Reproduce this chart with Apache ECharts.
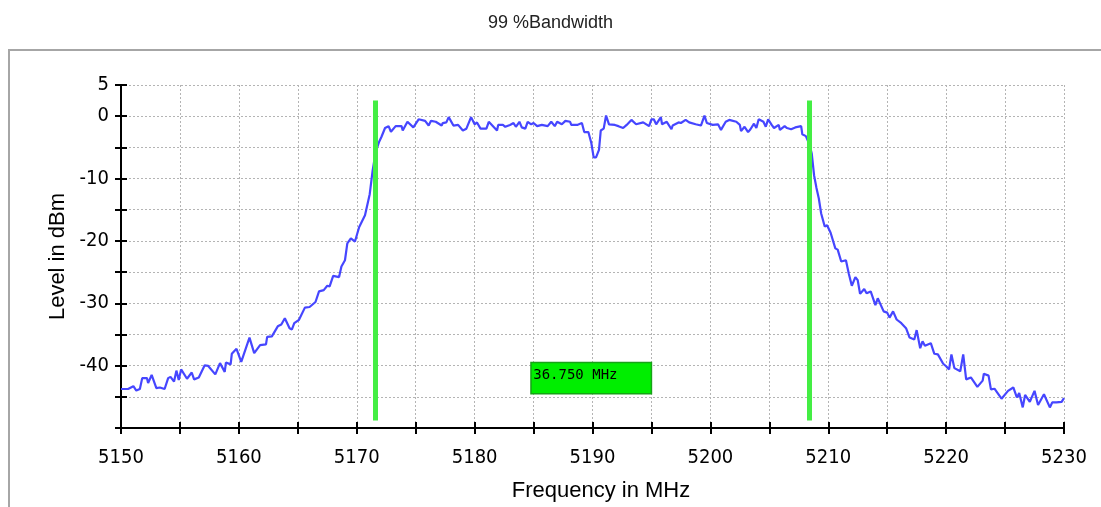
<!DOCTYPE html>
<html>
<head>
<meta charset="utf-8">
<script src="https://cdn.jsdelivr.net/npm/echarts@6/dist/echarts.min.js"></script>
<style>
html,body{margin:0;padding:0;background:#fff;}
#chart{width:1101px;height:507px;}
</style>
</head>
<body>
<div id="chart"></div>
<script>
const titleText = '99 %Bandwidth';
const xName = 'Frequency in MHz';
const yName = 'Level in dBm';
const bandwidthLabel = '36.750 MHz';

const freqMHz = [
5150.0,5150.6,5151.05,5151.3,5151.6,5151.8,5152.2,5152.3,5152.6,5153.0,5153.3,5153.7,5154.0,5154.2,5154.5,5154.7,5154.9,5155.1,5155.6,5156.0,
5156.2,5156.6,5157.1,5157.4,5158.0,5158.4,5158.8,5158.9,5159.3,5159.4,5159.8,5160.2,5160.9,5161.3,5161.8,5162.3,5162.4,5162.8,5163.3,5163.6,
5163.9,5164.3,5164.5,5164.7,5165.1,5165.6,5166.0,5166.5,5166.8,5167.2,5167.5,5167.7,5168.0,5168.5,5168.7,5169.0,5169.2,5169.5,5169.85,5170.2,
5170.7,5171.1,5171.35,5171.6,5171.9,5172.1,5172.4,5172.7,5172.9,5173.3,5173.8,5173.9,5174.3,5174.8,5175.25,5175.8,5176.1,5176.3,5176.7,5177.2,
5177.3,5177.6,5177.8,5178.2,5178.6,5179.0,5179.3,5179.7,5180.0,5180.2,5180.5,5181.0,5181.2,5181.9,5182.0,5182.4,5182.6,5183.0,5183.3,5183.5,
5183.8,5184.0,5184.3,5184.5,5184.8,5185.0,5185.3,5185.7,5186.2,5186.5,5186.8,5187.0,5187.4,5187.7,5188.1,5188.2,5188.7,5188.8,5189.1,5189.3,
5189.65,5189.9,5190.1,5190.3,5190.55,5190.7,5190.95,5191.15,5191.4,5191.9,5192.2,5192.6,5192.9,5193.3,5193.7,5194.3,5194.8,5195.0,5195.2,5195.4,
5195.8,5195.9,5196.3,5196.7,5196.8,5197.3,5197.5,5197.9,5198.2,5198.75,5199.2,5199.5,5199.7,5200.2,5200.65,5200.9,5201.3,5201.6,5202.2,5202.5,
5202.6,5202.9,5203.2,5203.4,5203.7,5203.9,5204.1,5204.5,5204.7,5204.9,5205.2,5205.4,5205.8,5205.9,5206.3,5206.5,5206.85,5207.2,5207.7,5207.8,
5208.1,5208.4,5208.6,5208.8,5209.0,5209.2,5209.4,5209.7,5209.9,5210.2,5210.6,5210.8,5211.1,5211.5,5211.75,5212.0,5212.3,5212.5,5212.7,5213.05,
5213.25,5213.6,5214.0,5214.2,5214.7,5215.0,5215.2,5215.5,5215.8,5216.2,5216.6,5216.9,5217.3,5217.5,5217.8,5218.0,5218.2,5218.7,5219.0,5219.3,
5219.75,5220.0,5220.25,5220.45,5220.7,5221.2,5221.45,5221.7,5222.1,5222.65,5223.1,5223.2,5223.6,5223.8,5224.1,5224.7,5225.25,5225.7,5226.0,5226.2,
5226.5,5226.7,5227.1,5227.5,5227.8,5228.3,5228.8,5229.0,5229.35,5229.5,5229.8,5230.0
];
const levelDBm = [
-43.75,-43.75,-43.3,-44.0,-43.75,-42.0,-42.0,-42.8,-41.5,-43.6,-43.5,-43.75,-42.0,-41.8,-42.55,-40.8,-42.3,-40.6,-42.1,-41.1,
-42.2,-41.9,-39.95,-40.05,-41.4,-39.6,-41.0,-39.5,-39.8,-38.1,-37.3,-39.4,-35.5,-38.0,-36.7,-36.6,-35.4,-35.3,-33.7,-33.4,
-32.4,-34.0,-34.2,-33.2,-32.65,-30.7,-30.6,-29.8,-28.1,-27.9,-27.2,-27.3,-25.6,-25.8,-24.1,-23.1,-20.4,-19.6,-20.1,-17.8,
-15.9,-12.5,-8.7,-5.8,-4.1,-3.3,-1.9,-1.6,-2.5,-1.6,-1.6,-2.3,-0.9,-1.8,-0.5,-0.75,-1.5,-0.75,-0.9,-1.5,
-1.1,-1.0,-0.15,-1.5,-1.4,-2.3,-2.0,-0.15,-1.3,-1.0,-2.0,-2.0,-0.9,-2.3,-1.4,-1.4,-1.7,-1.4,-1.1,-1.7,
-0.9,-1.8,-2.0,-0.9,-1.3,-1.1,-1.6,-1.4,-1.6,-0.9,-1.6,-0.9,-1.3,-0.75,-0.9,-1.4,-1.4,-1.7,-1.1,-2.55,
-2.55,-4.3,-6.6,-6.6,-5.4,-2.3,-2.0,0.1,-1.3,-1.4,-1.6,-1.9,-1.4,-0.6,-1.3,-1.0,-1.6,-0.5,-0.5,-1.3,
-0.15,-1.3,-0.9,-2.1,-1.5,-1.0,-1.1,-0.6,-1.0,-1.3,-1.5,0.1,-1.1,-1.4,-1.3,-2.2,-0.9,-0.6,-0.9,-1.4,
-2.4,-1.7,-2.55,-2.1,-1.2,-1.9,-0.5,-0.9,-1.7,-0.5,-1.4,-1.9,-1.4,-2.2,-1.6,-1.9,-2.1,-1.8,-1.6,-2.9,
-3.2,-4.5,-6.0,-9.5,-11.5,-13.2,-15.6,-17.7,-17.5,-18.7,-21.2,-21.4,-23.3,-23.1,-25.3,-27.2,-25.8,-26.3,-28.5,-27.7,
-28.4,-28.1,-30.3,-29.2,-31.3,-31.5,-32.3,-31.3,-32.6,-33.2,-34.0,-35.5,-35.8,-34.3,-37.2,-36.1,-36.8,-36.4,-38.1,-38.2,
-39.7,-40.1,-40.6,-38.2,-40.4,-40.9,-38.2,-42.2,-41.9,-43.4,-42.4,-41.3,-41.6,-43.8,-43.7,-45.3,-44.05,-43.5,-45.1,-44.4,
-46.7,-44.7,-45.8,-44.05,-46.3,-44.6,-46.7,-45.9,-45.9,-46.2,-45.8,-45.2
];

// bandwidth markers (MHz) and their vertical extent (dBm)
const markerFreqs = [5171.6, 5208.35];
const markerTop = 2.5;
const markerBottom = -48.8;
// readout box corners [freq, level]
const boxCorners = [[5184.78, -39.5], [5195.0, -44.5]];

const xTickLabels = [5150,5160,5170,5180,5190,5200,5210,5220,5230];
const yTickLabels = [5,0,-10,-20,-30,-40];

const seriesData = freqMHz.map((f, i) => [f, levelDBm[i]]);

const narrow = "'Liberation Sans Narrow','DejaVu Sans Condensed',sans-serif";
const regular = "'Liberation Sans',Arial,sans-serif";
const gridLine = {show: true, lineStyle: {color: '#b4b4b4', width: 1, type: [2, 2]}};

const chart = echarts.init(document.getElementById('chart'), null, {renderer: 'canvas'});
chart.setOption({
  animation: false,
  backgroundColor: '#fff',
  graphic: [{
    type: 'rect', silent: true, z: -10,
    shape: {x: 9, y: 50, width: 1200, height: 600},
    style: {fill: '#fff', stroke: '#a6a6a6', lineWidth: 2}
  }],
  title: {
    text: titleText, left: 'center', top: 9,
    textStyle: {fontFamily: regular, fontSize: 18, fontWeight: 'normal', color: '#222'}
  },
  grid: {left: 121, right: 37, top: 85, bottom: 74, containLabel: false},
  xAxis: [{
    type: 'value', min: 5150, max: 5230, interval: 5,
    name: xName, nameLocation: 'middle', nameGap: 52,
    nameTextStyle: {fontFamily: regular, fontSize: 22, color: '#000', padding: [0, 0, 0, 17], verticalAlign: 'top'},
    axisLine: {show: true, onZero: false, lineStyle: {color: '#000', width: 2}},
    axisTick: {show: true, length: 6, lineStyle: {color: '#000', width: 2}},
    axisLabel: {
      margin: 20, fontFamily: narrow, fontSize: 20, color: '#000',
      formatter: v => xTickLabels.includes(Math.round(v)) ? String(Math.round(v)) : ''
    },
    splitLine: gridLine
  }, {
    type: 'value', min: 5150, max: 5230, interval: 5, position: 'bottom',
    axisLine: {show: false, onZero: false}, axisLabel: {show: false}, splitLine: {show: false},
    axisTick: {show: true, inside: true, length: 6, lineStyle: {color: '#000', width: 2}}
  }],
  yAxis: [{
    type: 'value', min: -50, max: 5, interval: 5,
    name: yName, nameLocation: 'middle', nameGap: 50, nameRotate: 90,
    nameTextStyle: {fontFamily: regular, fontSize: 22, color: '#000'},
    axisLine: {show: true, onZero: false, lineStyle: {color: '#000', width: 2}},
    axisTick: {show: true, length: 6, lineStyle: {color: '#000', width: 2}},
    axisLabel: {
      margin: 12, fontFamily: narrow, fontSize: 20, color: '#000',
      formatter: v => yTickLabels.includes(Math.round(v)) ? String(Math.round(v)) : ''
    },
    splitLine: gridLine
  }, {
    type: 'value', min: -50, max: 5, interval: 5, position: 'left',
    axisLine: {show: false, onZero: false}, axisLabel: {show: false}, splitLine: {show: false},
    axisTick: {show: true, inside: true, length: 6, lineStyle: {color: '#000', width: 2}}
  }],
  series: [{
    type: 'line', xAxisIndex: 0, yAxisIndex: 0,
    data: seriesData, showSymbol: false, symbol: 'none',
    lineStyle: {color: '#4646ff', width: 2.2},
    z: 3,
    markLine: {
      silent: true, symbol: ['none', 'none'], z: 5,
      label: {show: false},
      lineStyle: {color: '#44ee44', width: 5, type: 'solid'},
      data: markerFreqs.map(f => [{coord: [f, markerTop]}, {coord: [f, markerBottom]}])
    },
    markArea: {
      silent: true, z: 6,
      itemStyle: {color: '#00ee00', borderColor: '#17a317', borderWidth: 1.5},
      label: {
        show: true, position: 'insideTopLeft', distance: 4, offset: [-1, 3],
        formatter: bandwidthLabel,
        fontFamily: "'DejaVu Sans Mono',monospace", fontSize: 14, color: '#000'
      },
      data: [[{coord: boxCorners[0]}, {coord: boxCorners[1]}]]
    }
  }]
});
</script>
</body>
</html>
